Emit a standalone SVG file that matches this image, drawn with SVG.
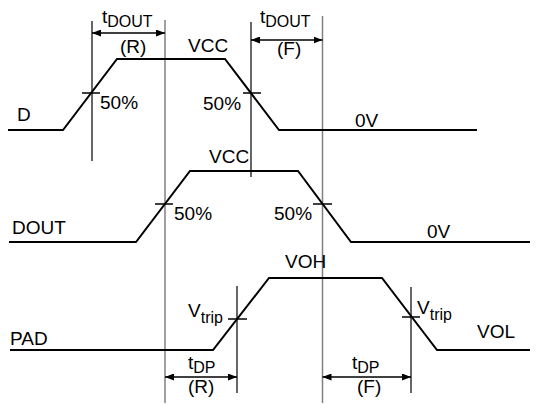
<svg xmlns="http://www.w3.org/2000/svg" width="538" height="405" viewBox="0 0 538 405">
<defs>
<marker id="ah" markerWidth="9" markerHeight="7" refX="9" refY="3.5" orient="auto-start-reverse" markerUnits="userSpaceOnUse">
<path d="M0,0 L9,3.5 L0,7 z" fill="#000"/>
</marker>
<style>
.wave{fill:none;stroke:#000;stroke-width:2;stroke-linejoin:miter}
.tick{stroke:#000;stroke-width:1.5}
.vb{stroke:#000;stroke-width:1.2}
.vg{stroke:#808080;stroke-width:1.5}
.dim{stroke:#000;stroke-width:1.5;marker-start:url(#ah);marker-end:url(#ah)}
text{font-family:"Liberation Sans",Arial,sans-serif;font-size:19px;fill:#000}
.sub{font-size:16px}
</style>
</defs>
<rect width="538" height="405" fill="#fff"/>
<g id="guides">
<line class="vb" x1="92" y1="21" x2="92" y2="161"/>
<line class="vg" x1="165" y1="20" x2="165" y2="403"/>
<line class="vb" x1="251" y1="22" x2="251" y2="177"/>
<line class="vg" x1="322.5" y1="16" x2="322.5" y2="403"/>
<line class="vb" x1="237" y1="286" x2="237" y2="393"/>
<line class="vb" x1="411" y1="287" x2="411" y2="393"/>
</g>
<g id="D">
<polyline class="wave" points="8,130 63,130 117,59 225,59 279,130 477,130"/>
<line class="tick" x1="82" y1="93" x2="100" y2="93"/>
<line class="tick" x1="243" y1="93" x2="261" y2="93"/>
<text x="17" y="121">D</text>
<text x="188" y="52">VCC</text>
<text x="100" y="109">50%</text>
<text x="203" y="110">50%</text>
<text x="355" y="127">0V</text>
</g>
<g id="DOUT">
<polyline class="wave" points="9,242 136,242 190,171 298,171 351,242 530,242"/>
<line class="tick" x1="155" y1="204" x2="173" y2="204"/>
<line class="tick" x1="313" y1="204" x2="332" y2="204"/>
<text x="12" y="234">DOUT</text>
<text x="209" y="163">VCC</text>
<text x="174" y="220">50%</text>
<text x="274" y="220">50%</text>
<text x="427" y="238">0V</text>
</g>
<g id="PAD">
<polyline class="wave" points="10,350 213,350 269,278 382,278 437,350 530,350"/>
<line class="tick" x1="228" y1="319" x2="247" y2="319"/>
<line class="tick" x1="402" y1="317" x2="420" y2="317"/>
<text x="10" y="345">PAD</text>
<text x="285" y="268">VOH</text>
<text x="477" y="338">VOL</text>
<text x="188" y="317">V<tspan class="sub" dy="6">trip</tspan></text>
<text x="417" y="314">V<tspan class="sub" dy="6">trip</tspan></text>
</g>
<g id="connectors">
<line class="dim" x1="92" y1="33" x2="165" y2="33"/>
<line class="dim" x1="251" y1="40" x2="322.5" y2="40"/>
<line class="dim" x1="165" y1="377" x2="237" y2="377"/>
<line class="dim" x1="322.5" y1="377" x2="411" y2="377"/>
</g>
<g id="labels">
<text x="102" y="23">t<tspan class="sub" dy="4">DOUT</tspan></text>
<text x="120" y="53">(R)</text>
<text x="260" y="23">t<tspan class="sub" dy="4">DOUT</tspan></text>
<text x="277" y="55">(F)</text>
<text x="188" y="369">t<tspan class="sub" dy="4">DP</tspan></text>
<text x="188" y="393">(R)</text>
<text x="352" y="369">t<tspan class="sub" dy="4">DP</tspan></text>
<text x="357" y="393">(F)</text>
</g>
</svg>
